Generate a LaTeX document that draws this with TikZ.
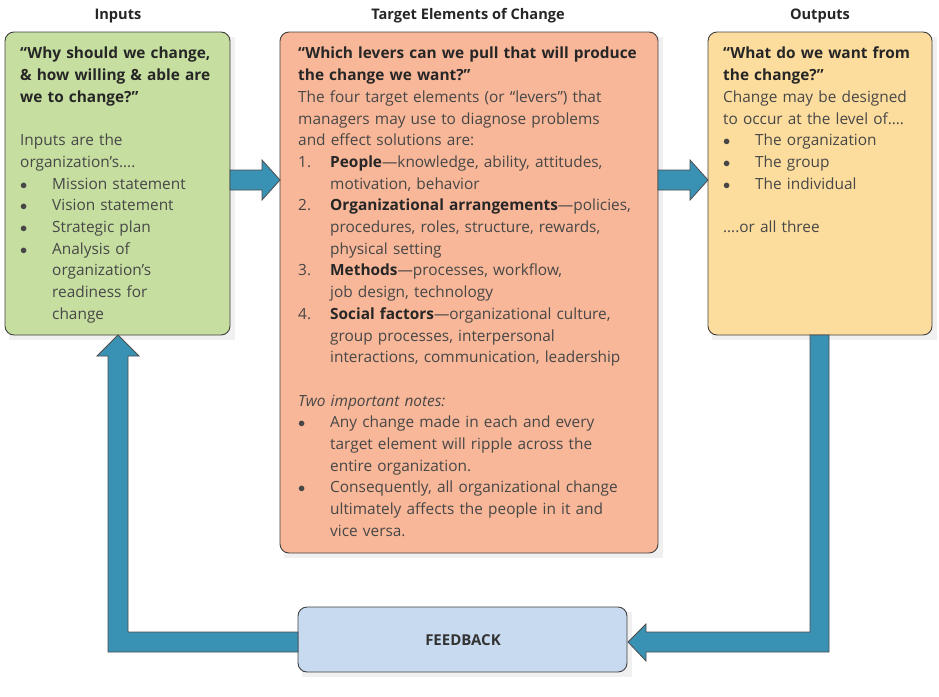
\documentclass[tikz,border=0pt]{standalone}
\usepackage{fontspec}
\setmainfont{Open Sans}
\usepackage{enumitem}
\begin{document}
\begin{tikzpicture}[x=1pt,y=-1pt,
  box/.style={draw=black!75,line width=0.9pt,rounded corners=9pt},
  txt/.style={anchor=north west,align=left,inner sep=0pt,text=black!72,font=\fontsize{15.4}{21.7}\selectfont},
  ttl/.style={font=\bfseries\fontsize{14.6}{17}\selectfont,text=black!85},
  arr/.style={fill={rgb,255:red,57;green,145;blue,180},draw=black!70,line width=0.8pt,line join=miter}]
\definecolor{gbox}{RGB}{198,223,160}
\definecolor{obox}{RGB}{248,183,152}
\definecolor{ybox}{RGB}{253,221,158}
\definecolor{bbox}{RGB}{199,218,240}
\useasboundingbox (0,0) rectangle (939,696);
\setlist[itemize]{nosep,leftmargin=32pt,labelsep=0pt,labelwidth=32pt,align=left,label={$\bullet$}}
\setlist[enumerate]{nosep,leftmargin=32pt,labelsep=0pt,labelwidth=32pt,align=left,label=\arabic*.}
\node[ttl] (t1) at (118,16) {Inputs};
\node[ttl] (t2) at (468,16) {Target Elements of Change};
\node[ttl] (t3) at (820,16) {Outputs};
\fill[black!6] (9,37) rectangle (235,340);
\fill[black!6] (284,37) rectangle (663,558);
\fill[black!6] (712,37) rectangle (937,340);
\fill[black!6] (302,612) rectangle (632,677);
\draw[box,fill=gbox] (5,32) rectangle (230,335);
\draw[box,fill=obox] (280,32) rectangle (658,553);
\draw[box,fill=ybox] (708,32) rectangle (932,335);
\draw[box,fill=bbox] (298,607) rectangle (627,672);
\node (fb) at (463,640) {\bfseries\fontsize{15}{17}\selectfont\color{black!80}FEEDBACK};
% arrows
\draw[arr] (230,170) -- (262,170) -- (262,160) -- (280,180) -- (262,200) -- (262,190) -- (230,190) -- cycle;
\draw[arr] (658,170) -- (690,170) -- (690,160) -- (708,180) -- (690,200) -- (690,190) -- (658,190) -- cycle;
\draw[arr] (810,335) -- (829,335) -- (829,652) -- (646,652) -- (646,661) -- (628,642) -- (646,624) -- (646,632) -- (810,632) -- cycle;
\draw[arr] (298,632) -- (128,632) -- (128,356) -- (139,356) -- (118,335) -- (97,356) -- (108,356) -- (108,652) -- (298,652) -- cycle;
% texts
\node[txt,text width=205pt] (a) at (20,47) {\textbf{\color{black!85}“Why should we change,\\ \& how willing \& able are\\ we to change?”}\\[21.7pt]
Inputs are the\\ organization’s….
\begin{itemize}
\item Mission statement
\item Vision statement
\item Strategic plan
\item Analysis of\\ organization’s\\ readiness for\\ change
\end{itemize}};
\node[txt,text width=360pt] (b) at (298,47) {\textbf{\color{black!85}“Which levers can we pull that will produce\\ the change we want?”}\\
The four target elements (or “levers”) that\\ managers may use to diagnose problems\\ and effect solutions are:
\begin{enumerate}
\item \textbf{\color{black!85}People}—knowledge, ability, attitudes,\\ motivation, behavior
\item \textbf{\color{black!85}Organizational arrangements}—policies,\\ procedures, roles, structure, rewards,\\ physical setting
\item \textbf{\color{black!85}Methods}—processes, workflow,\\ job design, technology
\item \textbf{\color{black!85}Social factors}—organizational culture,\\ group processes, interpersonal\\ interactions, communication, leadership
\end{enumerate}
\vspace{21.7pt}
\textit{Two important notes:}
\begin{itemize}
\item Any change made in each and every\\ target element will ripple across the\\ entire organization.
\item Consequently, all organizational change\\ ultimately affects the people in it and\\ vice versa.
\end{itemize}};
\node[txt,text width=210pt] (c) at (723,47) {\textbf{\color{black!85}“What do we want from\\ the change?”}\\
Change may be designed\\ to occur at the level of….
\begin{itemize}
\item The organization
\item The group
\item The individual
\end{itemize}
\vspace{21.7pt}
….or all three};
\end{tikzpicture}
\end{document}
